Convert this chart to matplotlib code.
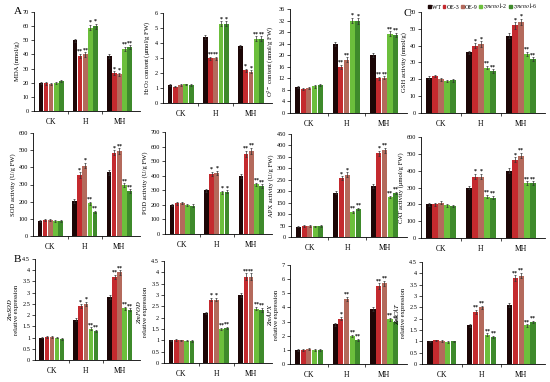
import matplotlib.pyplot as plt

plt.rcParams['font.family'] = ['Liberation Serif', 'DejaVu Serif']
plt.rcParams['mathtext.fontset'] = 'stix'

groups = ['CK', 'H', 'MH']
genotypes = ['WT', 'OE-3', 'OE-9', 'zmeno1-2', 'zmeno1-6']
colors = ['#1c0606', '#c42a2e', '#b46a5c', '#6cbf3c', '#3e8a2b']

# values per group (CK, H, MH), 5 genotypes each
mda = [[20, 19.5, 19, 20, 21], [50, 39, 40, 59, 60], [39, 27, 26, 44, 45]]
mda_err = [[0.8, 0.8, 0.8, 0.8, 0.8], [1.2, 1.5, 1.5, 1.8, 1.8], [1.5, 1.2, 1.2, 1.5, 1.5]]
mda_sig = [['', '', '', '', ''], ['', '**', '**', '*', '*'], ['', '*', '*', '**', '**']]

h2o2 = [[1.2, 1.1, 1.2, 1.25, 1.2], [4.4, 3.0, 3.0, 5.3, 5.3], [3.8, 2.2, 2.1, 4.3, 4.3]]
h2o2_err = [[0.05, 0.05, 0.05, 0.05, 0.05], [0.15, 0.1, 0.1, 0.15, 0.15], [0.1, 0.1, 0.08, 0.15, 0.15]]
h2o2_sig = [['', '', '', '', ''], ['', '**', '**', '*', '*'], ['', '*', '*', '**', '**']]

o2 = [[9, 8.2, 8.6, 9.2, 9.6], [24, 16, 18.5, 32, 31.8], [20, 12, 12.2, 27.5, 27]]
o2_err = [[0.4, 0.4, 0.4, 0.4, 0.4], [0.7, 0.6, 0.8, 1.0, 1.0], [0.6, 0.5, 0.5, 0.8, 0.8]]
o2_sig = [['', '', '', '', ''], ['', '**', '**', '*', '*'], ['', '**', '**', '**', '**']]

gsh = [[21, 22, 20, 19, 19.5], [36, 40, 41, 27, 25], [46, 52, 54, 35, 32]]
gsh_err = [[0.8, 0.8, 0.8, 0.8, 0.8], [1.0, 1.5, 1.5, 1.0, 1.0], [1.5, 2.0, 2.0, 1.2, 1.2]]
gsh_sig = [['', '', '', '', ''], ['', '*', '*', '**', '**'], ['', '*', '*', '**', '**']]

sod = [[90, 95, 95, 90, 90], [205, 355, 410, 190, 140], [370, 485, 495, 295, 262]]
sod_err = [[6, 6, 6, 6, 6], [10, 15, 15, 10, 8], [12, 15, 15, 12, 10]]
sod_sig = [['', '', '', '', ''], ['', '*', '*', '**', '**'], ['', '*', '**', '**', '**']]

pod = [[200, 210, 215, 200, 195], [300, 410, 420, 285, 290], [400, 550, 570, 340, 330]]
pod_err = [[8, 8, 8, 8, 8], [10, 15, 15, 10, 10], [15, 20, 20, 12, 12]]
pod_sig = [['', '', '', '', ''], ['', '*', '*', '*', '*'], ['', '**', '**', '**', '**']]

apx = [[45, 48, 48, 47, 48], [193, 257, 273, 110, 122], [222, 365, 378, 175, 192]]
apx_err = [[3, 3, 3, 3, 3], [7, 8, 10, 5, 5], [8, 12, 12, 6, 6]]
apx_sig = [['', '', '', '', ''], ['', '*', '*', '**', '**'], ['', '*', '**', '**', '**']]

cat = [[200, 200, 210, 195, 190], [300, 365, 365, 245, 240], [400, 465, 490, 325, 325]]
cat_err = [[8, 8, 8, 8, 8], [10, 15, 15, 10, 10], [15, 15, 15, 12, 12]]
cat_sig = [['', '', '', '', ''], ['', '*', '*', '**', '**'], ['', '*', '**', '**', '**']]

zmsod = [[1.0, 1.02, 1.02, 1.0, 0.93], [1.8, 2.4, 2.5, 1.4, 1.3], [2.8, 3.7, 3.9, 2.3, 2.25]]
zmsod_err = [[0.03, 0.03, 0.03, 0.03, 0.03], [0.05, 0.08, 0.08, 0.05, 0.05], [0.08, 0.1, 0.1, 0.06, 0.06]]
zmsod_sig = [['', '', '', '', ''], ['', '*', '*', '**', '**'], ['', '**', '**', '**', '**']]

zmpod = [[1.0, 1.02, 1.0, 0.98, 0.97], [2.2, 2.8, 2.8, 1.5, 1.55], [3.0, 3.8, 3.8, 2.4, 2.35]]
zmpod_err = [[0.03, 0.03, 0.03, 0.03, 0.03], [0.06, 0.08, 0.08, 0.05, 0.05], [0.1, 0.15, 0.15, 0.08, 0.08]]
zmpod_sig = [['', '', '', '', ''], ['', '*', '*', '**', '**'], ['', '**', '**', '**', '**']]

zmapx = [[1.0, 1.0, 1.05, 1.0, 1.0], [2.8, 3.2, 4.6, 2.0, 1.7], [3.9, 5.5, 5.7, 3.15, 3.0]]
zmapx_err = [[0.05, 0.05, 0.05, 0.05, 0.05], [0.1, 0.12, 0.15, 0.08, 0.08], [0.12, 0.2, 0.2, 0.1, 0.1]]
zmapx_sig = [['', '', '', '', ''], ['', '*', '**', '**', '**'], ['', '**', '**', '**', '**']]

zmcat = [[1.0, 1.05, 1.02, 0.97, 1.0], [1.7, 2.3, 2.5, 1.3, 1.2], [2.6, 3.8, 3.9, 1.7, 1.85]]
zmcat_err = [[0.03, 0.03, 0.03, 0.03, 0.03], [0.05, 0.08, 0.08, 0.05, 0.05], [0.08, 0.12, 0.12, 0.06, 0.06]]
zmcat_sig = [['', '', '', '', ''], ['', '**', '**', '**', '**'], ['', '**', '**', '**', '**']]

# (data, err, sig, ylabel, ymax, ystep, rect in px: left, top, right, bottom)
panels = [
    (mda, mda_err, mda_sig, 'MDA (nmol/g)', 70, 10, (34, 12, 140, 111)),
    (h2o2, h2o2_err, h2o2_sig, 'H$_2$O$_2$ content (μmol/g FW)', 6, 1, (163, 13, 272, 103)),
    (o2, o2_err, o2_sig, 'O$^{2-}$ content (nmol/g FW)', 36, 4, (290, 9, 407, 113)),
    (gsh, gsh_err, gsh_sig, 'GSH activity (nmol/g)', 60, 10, (421, 12, 545, 113)),
    (sod, sod_err, sod_sig, 'SOD activity (U/g FW)', 600, 100, (33, 133, 140, 236)),
    (pod, pod_err, pod_sig, 'POD activity (U/g FW)', 700, 100, (165, 132, 272, 234)),
    (apx, apx_err, apx_sig, 'APX activity (U/g FW)', 450, 50, (291, 134, 407, 237)),
    (cat, cat_err, cat_sig, 'CAT activity (μmol/g FW)', 600, 100, (421, 137, 545, 238)),
    (zmsod, zmsod_err, zmsod_sig, '$\\it{ZmSOD}$\nrelative expression', 4.5, 0.5, (35, 259, 140, 360)),
    (zmpod, zmpod_err, zmpod_sig, '$\\it{ZmPOD}$\nrelative expression', 4.5, 0.5, (164, 261, 272, 363)),
    (zmapx, zmapx_err, zmapx_sig, '$\\it{ZmAPX}$\nrelative expression', 7, 1, (290, 265, 407, 364)),
    (zmcat, zmcat_err, zmcat_sig, '$\\it{ZmCAT}$\nrelative expression', 4.5, 0.5, (422, 262, 545, 364)),
]

W, H = 550, 382
fig = plt.figure(figsize=(5.5, 3.82), dpi=100)
bw = 0.15

for data, err, sig, ylabel, ymax, ystep, (l, t, r, b) in panels:
    ax = fig.add_axes([l / W, 1 - b / H, (r - l) / W, (b - t) / H])
    for g in range(3):
        for k in range(5):
            x = g + (k - 2) * bw
            ax.bar(x, data[g][k], width=bw * 0.9, color=colors[k],
                   yerr=err[g][k], error_kw=dict(ecolor='#333333', elinewidth=0.5, capsize=0.8, capthick=0.5))
            if sig[g][k]:
                ax.text(x, data[g][k] + err[g][k], sig[g][k],
                        ha='center', va='bottom', fontsize=4.2, fontweight='bold')
    ax.set_xlim(-0.5, 2.6)
    ax.set_ylim(0, ymax)
    n = int(round(ymax / ystep))
    ticks = [i * ystep for i in range(n + 1)]
    ax.set_yticks(ticks)
    ax.set_yticklabels([('%g' % v) for v in ticks], fontsize=4.5)
    ax.set_xticks([0, 1, 2])
    ax.set_xticklabels(groups, fontsize=5.5)
    ax.set_xticks([0.5, 1.5], minor=True)
    ax.tick_params(axis='x', which='major', length=0, pad=5)
    ax.tick_params(axis='x', which='minor', length=2, width=0.5, direction='out')
    ax.tick_params(axis='y', length=2, width=0.5, direction='out', pad=1.5)
    ax.set_ylabel(ylabel, fontsize=4.8, labelpad=2, linespacing=1.0)
    for s in ['top', 'right']:
        ax.spines[s].set_visible(False)
    for s in ['left', 'bottom']:
        ax.spines[s].set_linewidth(0.6)

fig.text(18 / W, 1 - 12 / H, 'A', fontsize=8, ha='center', va='center')
fig.text(17 / W, 1 - 259 / H, 'B', fontsize=8, ha='center', va='center')
fig.text(407 / W, 1 - 13 / H, 'C', fontsize=8, ha='center', va='center')

handles = [plt.Rectangle((0, 0), 1, 1, color=c) for c in colors]
labels = ['WT', 'OE-3', 'OE-9', '$\\it{zmeno1}$-2', '$\\it{zmeno1}$-6']
fig.legend(handles, labels, loc='upper left', bbox_to_anchor=(428 / W, 1 - 2 / H), ncol=5,
           fontsize=4.2, frameon=False, handlelength=0.5, handleheight=0.5,
           handletextpad=0.15, columnspacing=0.3, borderpad=0, borderaxespad=0)

fig.savefig('out.png', dpi=100)
